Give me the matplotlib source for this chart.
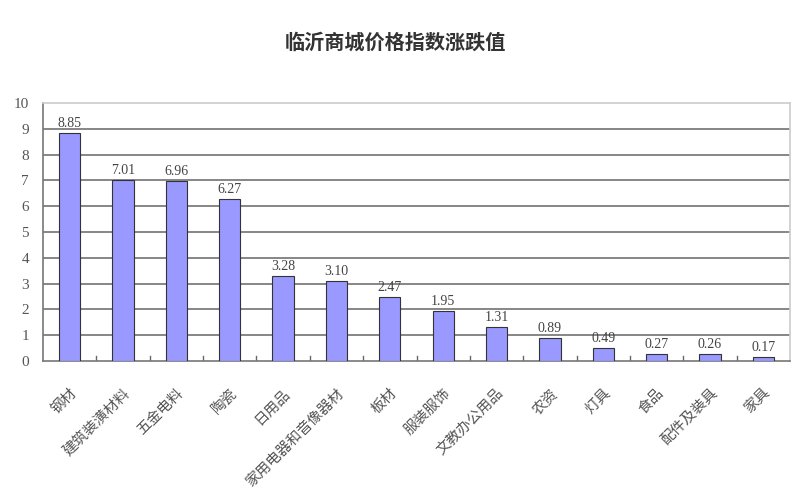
import matplotlib
matplotlib.use("Agg")
import matplotlib.pyplot as plt
import numpy as np

categories = ["钢材", "建筑装潢材料", "五金电料", "陶瓷", "日用品", "家用电器和音像器材",
              "板材", "服装服饰", "文教办公用品", "农资", "灯具", "食品", "配件及装具", "家具"]
values = [8.85, 7.01, 6.96, 6.27, 3.28, 3.10, 2.47, 1.95, 1.31, 0.89, 0.49, 0.27, 0.26, 0.17]
value_labels = ["8.85", "7.01", "6.96", "6.27", "3.28", "3.10", "2.47", "1.95", "1.31",
                "0.89", "0.49", "0.27", "0.26", "0.17"]
yticks = list(range(0, 11))
title = "临沂商城价格指数涨跌值"

fig = plt.figure(figsize=(8, 5), dpi=100)
ax = fig.add_axes([43/800, 1-361/500, (790-43)/800, (361-103)/500])

x = np.arange(len(categories))
ax.bar(x, values, width=0.4, color="#9999FF", edgecolor="#333333", linewidth=0.8, zorder=3)

ax.set_xlim(-0.5, len(categories) - 0.5)
ax.set_ylim(0, 10)
ax.set_yticks(yticks)
ax.set_yticklabels([str(t) for t in yticks], family="Liberation Serif", fontsize=11, color="#555555")
ax.tick_params(axis="y", length=0, pad=10)
for t in range(1, 10):
    ax.axhline(t, color="#666666", linewidth=1.1, zorder=1)

ax.set_xticks(x)
ax.set_xticklabels(categories, rotation=45, ha="right", rotation_mode="anchor",
                   family=["Noto Sans CJK SC", "DejaVu Sans"], fontsize=10.5, color="#555555")
ax.tick_params(axis="x", length=0, pad=18)
# minor separators between categories
for b in np.arange(0.5, len(categories) - 1, 1.0):
    ax.plot([b, b], [0, 0.2], color="#666666", linewidth=1, zorder=2)

for xi, v, lab in zip(x, values, value_labels):
    ax.text(xi, v + 0.12, lab, ha="center", va="bottom", family="Liberation Serif",
            fontsize=10, color="#444444")

ax.spines["left"].set_color("#777777")
ax.spines["left"].set_linewidth(1.2)
ax.spines["bottom"].set_color("#777777")
ax.spines["bottom"].set_linewidth(1.2)
ax.spines["top"].set_color("#cccccc")
ax.spines["top"].set_linewidth(1.2)
ax.spines["right"].set_color("#cccccc")
ax.spines["right"].set_linewidth(1.2)

fig.text(395/800, 1-42/500, title, ha="center", va="center",
         family=["Noto Sans CJK SC", "DejaVu Sans"], fontsize=14.5, fontweight="bold", color="#333333")

fig.savefig("out.png", dpi=100)
